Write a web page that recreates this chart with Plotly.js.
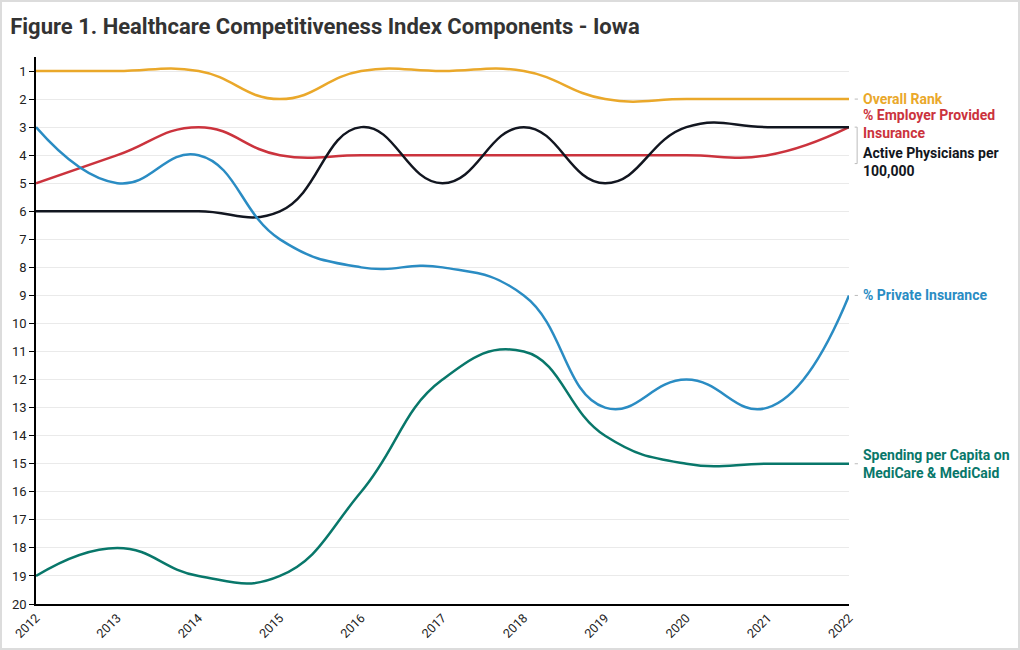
<!DOCTYPE html>
<html>
<head>
<meta charset="utf-8">
<script src="https://cdn.plot.ly/plotly-3.0.1.min.js"></script>
<style>
  html, body { margin: 0; padding: 0; background: #fff; }
  #chart { width: 1020px; height: 650px; }
  #frame { position: absolute; left: 0; top: 0; width: 1020px; height: 650px; box-sizing: border-box; border: 2px solid #dcdcdc; pointer-events: none; }
</style>
</head>
<body>
<div id="chart"></div>
<div id="frame"></div>
<script>
const years = [2012, 2013, 2014, 2015, 2016, 2017, 2018, 2019, 2020, 2021, 2022];
const overallRank = [1, 1, 1, 2, 1, 1, 1, 2, 2, 2, 2];
const employerInsurance = [5, 4, 3, 4, 4, 4, 4, 4, 4, 4, 3];
const activePhysicians = [6, 6, 6, 6, 3, 5, 3, 5, 3, 3, 3];
const privateInsurance = [3, 5, 4, 7, 8, 8, 9, 13, 12, 13, 9];
const spendingMedi = [19, 18, 19, 19, 16, 12, 11, 14, 15, 15, 15];
const yTicks = [1,2,3,4,5,6,7,8,9,10,11,12,13,14,15,16,17,18,19,20];

const series = [
  {name: 'Overall Rank', y: overallRank, color: '#EAA82A'},
  {name: '% Employer Provided Insurance', y: employerInsurance, color: '#CB333D'},
  {name: 'Active Physicians per 100,000', y: activePhysicians, color: '#121620'},
  {name: '% Private Insurance', y: privateInsurance, color: '#2A8CC3'},
  {name: 'Spending per Capita on MediCare & MediCaid', y: spendingMedi, color: '#08776A'}
];

const traces = series.map(s => ({
  type: 'scatter', mode: 'lines', x: years, y: s.y, name: s.name,
  line: {color: s.color, width: 2.5, shape: 'spline', smoothing: 1.3},
  hoverinfo: 'x+y+name'
}));

// end labels: [text, anchor value, color, pixel shift]
const endLabels = [
  ['Overall Rank', overallRank[10], '#EAA82A', 0],
  ['% Employer Provided<br>Insurance', employerInsurance[10], '#CB333D', 3],
  ['Active Physicians per<br>100,000', activePhysicians[10], '#121620', -35],
  ['% Private Insurance', privateInsurance[10], '#2A8CC3', 0],
  ['Spending per Capita on<br>MediCare & MediCaid', spendingMedi[10], '#08776A', 0]
];

const annotations = endLabels.map(l => ({
  xref: 'paper', yref: 'y', x: 1, y: l[1], xanchor: 'left', yanchor: 'middle',
  xshift: 12, yshift: l[3], text: '<b>' + l[0] + '</b>', showarrow: false, align: 'left',
  font: {family: 'Roboto, sans-serif', size: 14, color: l[2]}
}));

const dashShapes = [overallRank[10], privateInsurance[10], spendingMedi[10]].map(v => ({
  type: 'line', xref: 'paper', yref: 'y', x0: 1.007, x1: 1.011, y0: v, y1: v,
  line: {color: '#bbbbbb', width: 1}
}));
dashShapes.push({type: 'line', xref: 'paper', yref: 'y', x0: 1.010, x1: 1.010, y0: 3.0, y1: 4.3, line: {color: '#bbbbbb', width: 1}});
dashShapes.push({type: 'line', xref: 'paper', yref: 'y', x0: 1.007, x1: 1.010, y0: 3.0, y1: 3.0, line: {color: '#bbbbbb', width: 1}});
dashShapes.push({type: 'line', xref: 'paper', yref: 'y', x0: 1.007, x1: 1.010, y0: 4.3, y1: 4.3, line: {color: '#bbbbbb', width: 1}});

const layout = {
  width: 1020, height: 650,
  margin: {l: 36, r: 171, t: 57, b: 46},
  paper_bgcolor: '#ffffff', plot_bgcolor: '#ffffff',
  font: {family: 'Roboto, sans-serif', color: '#222222'},
  title: {text: '<b>Figure 1. Healthcare Competitiveness Index Components - Iowa</b>', x: 0.01, xanchor: 'left', y: 0.96, yanchor: 'middle',
          font: {family: 'Roboto, sans-serif', size: 22, color: '#333333'}},
  showlegend: false,
  xaxis: {
    range: [2012, 2022], tickvals: years, ticktext: years.map(String), tickangle: -45,
    showline: true, linecolor: '#000', linewidth: 1.5, showgrid: false, zeroline: false,
    ticks: '', tickfont: {size: 12.5, color: '#222'}
  },
  yaxis: {
    range: [20, 0.5], tickvals: yTicks, ticktext: yTicks.map(String),
    showline: true, linecolor: '#000', linewidth: 1.5, showgrid: true, gridcolor: '#eaeaea', gridwidth: 1,
    zeroline: false, ticks: 'outside', ticklen: 5, tickcolor: '#000', tickfont: {size: 13, color: '#222'}
  },
  annotations: annotations,
  shapes: dashShapes
};

Plotly.newPlot('chart', traces, layout, {displayModeBar: false});
</script>
</body>
</html>
